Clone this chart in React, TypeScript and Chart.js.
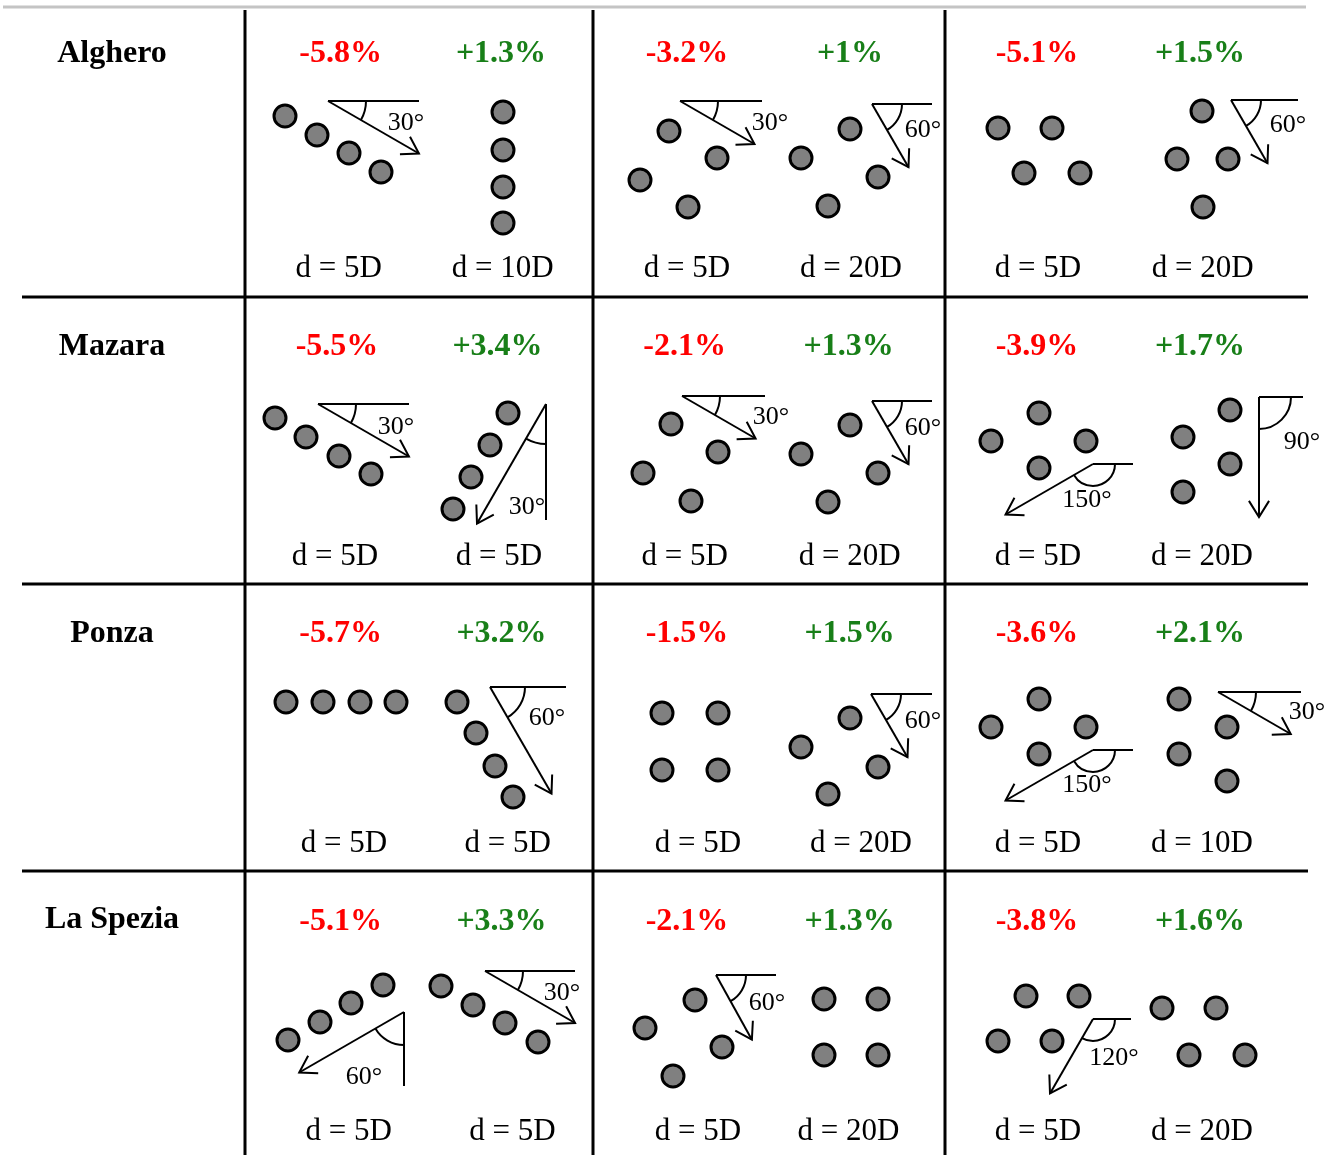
import React, { useEffect, useRef } from "react";
import { Chart, registerables } from "chart.js";

Chart.register(...registerables);

const W = 1342;
const H = 1155;

// ---------- data ----------
const rowLabels = ["Alghero", "Mazara", "Ponza", "La Spezia"];
const lossPct = [
  [-5.8, -3.2, -5.1],
  [-5.5, -2.1, -3.9],
  [-5.7, -1.5, -3.6],
  [-5.1, -2.1, -3.8],
];
const gainPct = [
  [1.3, 1, 1.5],
  [3.4, 1.3, 1.7],
  [3.2, 1.5, 2.1],
  [3.3, 1.3, 1.6],
];
const spacing = [
  ["5D", "10D", "5D", "20D", "5D", "20D"],
  ["5D", "5D", "5D", "20D", "5D", "20D"],
  ["5D", "5D", "5D", "20D", "5D", "10D"],
  ["5D", "5D", "5D", "20D", "5D", "20D"],
];

// turbine positions (diagram units), 6 layouts per site
const algheroLayouts = [
  [[285, 116], [317, 135], [349, 153], [381, 172]],
  [[503, 112], [503, 150], [503, 187], [503, 223]],
  [[669, 131], [717, 158], [640, 180], [688, 207]],
  [[850, 129], [801, 158], [878, 177], [828, 206]],
  [[998, 128], [1052, 128], [1024, 173], [1080, 173]],
  [[1202, 111], [1177, 159], [1228, 159], [1203, 207]],
];
const mazaraLayouts = [
  [[275, 418], [306, 437], [339, 456], [371, 474]],
  [[508, 413], [490, 445], [471, 477], [453, 509]],
  [[671, 424], [718, 452], [643, 473], [691, 501]],
  [[850, 425], [801, 454], [878, 473], [828, 502]],
  [[1039, 413], [991, 441], [1086, 441], [1039, 468]],
  [[1230, 410], [1183, 437], [1230, 464], [1183, 492]],
];
const ponzaLayouts = [
  [[286, 702], [323, 702], [360, 702], [396, 702]],
  [[457, 702], [476, 733], [495, 766], [513, 797]],
  [[662, 713], [718, 713], [662, 770], [718, 770]],
  [[850, 718], [801, 747], [878, 767], [828, 794]],
  [[1039, 699], [991, 727], [1086, 727], [1039, 754]],
  [[1179, 699], [1227, 727], [1179, 754], [1227, 781]],
];
const laSpeziaLayouts = [
  [[288, 1040], [320, 1022], [351, 1003], [383, 985]],
  [[441, 986], [473, 1005], [505, 1023], [538, 1042]],
  [[695, 1000], [645, 1028], [722, 1047], [673, 1076]],
  [[824, 999], [878, 999], [824, 1055], [878, 1055]],
  [[1026, 996], [1079, 996], [998, 1041], [1052, 1041]],
  [[1162, 1008], [1216, 1008], [1189, 1055], [1245, 1055]],
];

// wind directions: origin, direction (deg, clockwise from +x), length,
// reference line ('h' | 'v') and its length, arc radius, angle label, label pos
const windArrows = [
  { ox: 328, oy: 101, dir: 30, len: 105, ref: "h", refLen: 91, arcR: 38, label: 30, lx: 406, ly: 122 },
  { ox: 680, oy: 101, dir: 30, len: 86, ref: "h", refLen: 82, arcR: 38, label: 30, lx: 770, ly: 122 },
  { ox: 872, oy: 104, dir: 60, len: 73, ref: "h", refLen: 60, arcR: 30, label: 60, lx: 923, ly: 129 },
  { ox: 1231, oy: 100, dir: 60, len: 73, ref: "h", refLen: 67, arcR: 30, label: 60, lx: 1288, ly: 124 },
  { ox: 318, oy: 404, dir: 30, len: 105, ref: "h", refLen: 91, arcR: 38, label: 30, lx: 396, ly: 426 },
  { ox: 546, oy: 404, dir: 120, len: 138, ref: "v", refLen: 116, arcR: 40, label: 30, lx: 527, ly: 506 },
  { ox: 682, oy: 396, dir: 30, len: 85, ref: "h", refLen: 83, arcR: 38, label: 30, lx: 771, ly: 416 },
  { ox: 872, oy: 401, dir: 60, len: 73, ref: "h", refLen: 60, arcR: 30, label: 60, lx: 923, ly: 427 },
  { ox: 1093, oy: 464, dir: 150, len: 101, ref: "h", refLen: 40, arcR: 22, label: 150, lx: 1087, ly: 499 },
  { ox: 1259, oy: 397, dir: 90, len: 120, ref: "h", refLen: 44, arcR: 32, label: 90, lx: 1302, ly: 441 },
  { ox: 490, oy: 687, dir: 60, len: 123, ref: "h", refLen: 76, arcR: 35, label: 60, lx: 547, ly: 717 },
  { ox: 871, oy: 694, dir: 60, len: 73, ref: "h", refLen: 61, arcR: 30, label: 60, lx: 923, ly: 720 },
  { ox: 1093, oy: 750, dir: 150, len: 101, ref: "h", refLen: 40, arcR: 22, label: 150, lx: 1087, ly: 784 },
  { ox: 1218, oy: 692, dir: 30, len: 84, ref: "h", refLen: 83, arcR: 38, label: 30, lx: 1307, ly: 711 },
  { ox: 404, oy: 1012, dir: 150, len: 121, ref: "v", refLen: 74, arcR: 33, label: 60, lx: 364, ly: 1076 },
  { ox: 485, oy: 971, dir: 30, len: 104, ref: "h", refLen: 90, arcR: 38, label: 30, lx: 562, ly: 992 },
  { ox: 716, oy: 975, dir: 61, len: 74, ref: "h", refLen: 60, arcR: 30, label: 60, lx: 767, ly: 1002 },
  { ox: 1093, oy: 1019, dir: 120, len: 86, ref: "h", refLen: 38, arcR: 22, label: 120, lx: 1114, ly: 1057 },
];

// ---------- layout (positions of text / rules) ----------
const rowLabelX = 112;
const rowLabelBase = [62, 355, 642, 928];
const pctX = [
  [340.6, 501, 687, 850, 1037, 1200],
  [337, 497.5, 684.6, 848.6, 1037, 1200],
  [340.6, 501.5, 687, 849.6, 1037, 1200],
  [340.6, 501.5, 687, 849.6, 1037, 1200],
];
const pctBase = [62, 355, 642, 930];
const spacingX = [
  [338.7, 502.8, 687, 851, 1038, 1202.6],
  [335, 499, 684.6, 849.7, 1038, 1202],
  [344, 507.7, 698, 861, 1038, 1202],
  [348.6, 512.4, 698, 848.4, 1038, 1202],
];
const spacingBase = [277, 565, 852, 1140];
const rowRules = [297, 584, 871];
const colRules = [245, 593, 945];

const SERIF = "'Liberation Serif', 'Times New Roman', serif";
const RED = "#ff0000";
const GREEN = "#187f18";

const allLayouts = [algheroLayouts, mazaraLayouts, ponzaLayouts, laSpeziaLayouts];
const turbinePoints = allLayouts.flatMap((row) =>
  row.flatMap((layout) => layout.map(([x, y]) => ({ x, y })))
);

const diagramPlugin = {
  id: "diagram",
  beforeDatasetsDraw(chart: any) {
    const ctx: CanvasRenderingContext2D = chart.ctx;
    const xs = chart.scales.x;
    const ys = chart.scales.y;
    const px = (v: number) => xs.getPixelForValue(v);
    const py = (v: number) => ys.getPixelForValue(v);
    const k = Math.abs(px(1) - px(0));

    ctx.save();
    ctx.lineCap = "butt";
    // top gray rule
    ctx.strokeStyle = "#c4c4c4";
    ctx.lineWidth = 3;
    ctx.beginPath();
    ctx.moveTo(px(3), py(7));
    ctx.lineTo(px(1306), py(7));
    ctx.stroke();

    // table rules
    ctx.strokeStyle = "#000";
    ctx.lineWidth = 3;
    rowRules.forEach((y) => {
      ctx.beginPath();
      ctx.moveTo(px(22), py(y));
      ctx.lineTo(px(1308), py(y));
      ctx.stroke();
    });
    colRules.forEach((x) => {
      ctx.beginPath();
      ctx.moveTo(px(x), py(10));
      ctx.lineTo(px(x), py(H));
      ctx.stroke();
    });

    // wind arrows
    ctx.lineWidth = 2;
    ctx.lineJoin = "miter";
    windArrows.forEach((a) => {
      const ox = px(a.ox);
      const oy = py(a.oy);
      const d = (a.dir * Math.PI) / 180;
      const tx = ox + Math.cos(d) * a.len * k;
      const ty = oy + Math.sin(d) * a.len * k;
      // reference line
      ctx.beginPath();
      ctx.moveTo(ox, oy);
      if (a.ref === "h") ctx.lineTo(ox + a.refLen * k, oy);
      else ctx.lineTo(ox, oy + a.refLen * k);
      ctx.stroke();
      // shaft
      ctx.beginPath();
      ctx.moveTo(ox, oy);
      ctx.lineTo(tx, ty);
      ctx.stroke();
      // open head
      const hl = 19 * k;
      const ha = (32 * Math.PI) / 180;
      const back = d + Math.PI;
      ctx.beginPath();
      ctx.moveTo(tx + Math.cos(back - ha) * hl, ty + Math.sin(back - ha) * hl);
      ctx.lineTo(tx, ty);
      ctx.lineTo(tx + Math.cos(back + ha) * hl, ty + Math.sin(back + ha) * hl);
      ctx.stroke();
      // angle arc
      const start = a.ref === "h" ? 0 : Math.PI / 2;
      ctx.beginPath();
      ctx.arc(ox, oy, a.arcR * k, start, d, false);
      ctx.stroke();
    });
    ctx.restore();
  },
  afterDatasetsDraw(chart: any) {
    const ctx: CanvasRenderingContext2D = chart.ctx;
    const xs = chart.scales.x;
    const ys = chart.scales.y;
    const px = (v: number) => xs.getPixelForValue(v);
    const py = (v: number) => ys.getPixelForValue(v);

    ctx.save();
    ctx.textAlign = "center";
    ctx.textBaseline = "alphabetic";

    // site names
    ctx.fillStyle = "#000";
    ctx.font = `bold 32px ${SERIF}`;
    rowLabels.forEach((name, r) => ctx.fillText(name, px(rowLabelX), py(rowLabelBase[r])));

    // percentages
    ctx.font = `bold 32px ${SERIF}`;
    for (let r = 0; r < 4; r++) {
      for (let c = 0; c < 3; c++) {
        ctx.fillStyle = RED;
        ctx.fillText(`${lossPct[r][c]}%`, px(pctX[r][c * 2]), py(pctBase[r]));
        ctx.fillStyle = GREEN;
        ctx.fillText(`+${gainPct[r][c]}%`, px(pctX[r][c * 2 + 1]), py(pctBase[r]));
      }
    }

    // spacing labels
    ctx.fillStyle = "#000";
    ctx.font = `31px ${SERIF}`;
    for (let r = 0; r < 4; r++) {
      for (let c = 0; c < 6; c++) {
        ctx.fillText(`d = ${spacing[r][c]}`, px(spacingX[r][c]), py(spacingBase[r]));
      }
    }

    // angle labels
    ctx.font = `26px ${SERIF}`;
    ctx.textBaseline = "middle";
    windArrows.forEach((a) => {
      ctx.fillText(`${a.label}°`, px(a.lx), py(a.ly + 1));
    });
    ctx.restore();
  },
};

export default function App() {
  const canvasRef = useRef<HTMLCanvasElement | null>(null);

  useEffect(() => {
    document.body.style.margin = "0";
    document.body.style.background = "#ffffff";
    const canvas = canvasRef.current;
    if (!canvas) return;
    const chart = new Chart(canvas, {
      type: "scatter",
      data: {
        datasets: [
          {
            data: turbinePoints,
            pointRadius: 11,
            pointHoverRadius: 11,
            pointBorderWidth: 3,
            pointHoverBorderWidth: 3,
            backgroundColor: "#808080",
            borderColor: "#000000",
            clip: false,
          } as any,
        ],
      },
      options: {
        animation: false,
        responsive: false,
        maintainAspectRatio: false,
        devicePixelRatio: 1,
        events: [],
        layout: { padding: 0, autoPadding: false },
        plugins: {
          legend: { display: false },
          tooltip: { enabled: false },
        },
        scales: {
          x: { type: "linear", min: 0, max: W, display: false },
          y: { type: "linear", min: 0, max: H, reverse: true, display: false },
        },
      } as any,
      plugins: [diagramPlugin],
    });
    return () => chart.destroy();
  }, []);

  return (
    <div style={{ width: W, height: H, background: "#fff" }}>
      <canvas ref={canvasRef} width={W} height={H} style={{ display: "block", width: W, height: H }} />
    </div>
  );
}
